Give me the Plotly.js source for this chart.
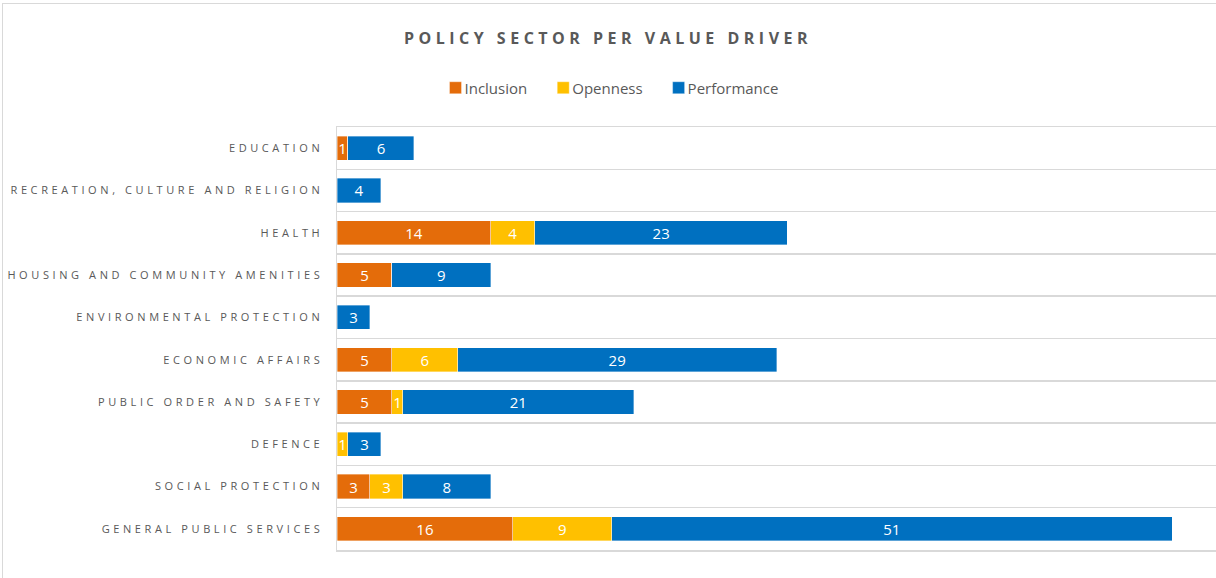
<!DOCTYPE html>
<html>
<head>
<meta charset="utf-8">
<script src="https://cdn.plot.ly/plotly-3.0.1.min.js"></script>
<style>
  html, body { margin: 0; padding: 0; background: #ffffff; overflow: hidden; }
  #wrap { position: relative; width: 1216px; height: 578px; }
  #chart { position: absolute; left: 0; top: 0; width: 1216px; height: 578px; }
  #frame { position: absolute; left: 2px; top: 3px; width: 1240px; height: 600px;
           border-left: 1.5px solid #d9d9d9; border-top: 1.5px solid #d9d9d9; pointer-events: none; }
  .gtitle { letter-spacing: 4.5px; }
  .yaxislayer-above .ytick text { letter-spacing: 3.6px; }
  .legend .traces .legendpoints { transform: translateX(11px); }
</style>
</head>
<body>
<div id="wrap">
  <div id="chart"></div>
  <div id="frame"></div>
</div>
<script>
// Categories, bottom to top
const categories = [
  "GENERAL PUBLIC SERVICES",
  "SOCIAL PROTECTION",
  "DEFENCE",
  "PUBLIC ORDER AND SAFETY",
  "ECONOMIC AFFAIRS",
  "ENVIRONMENTAL PROTECTION",
  "HOUSING AND COMMUNITY AMENITIES",
  "HEALTH",
  "RECREATION, CULTURE AND RELIGION",
  "EDUCATION"
];
const inclusion   = [16, 3, 0, 5, 5, 0, 5, 14, 0, 1];
const openness    = [9, 3, 1, 1, 6, 0, 0, 4, 0, 0];
const performance = [51, 8, 3, 21, 29, 3, 9, 23, 4, 6];

const seriesNames = ["Inclusion", "Openness", "Performance"];
const seriesColors = ["#E46C0A", "#FFC000", "#0070C0"];
const seriesValues = [inclusion, openness, performance];

const FONT = "Open Sans, Noto Sans, DejaVu Sans, sans-serif";

const traces = seriesValues.map((vals, i) => ({
  type: "bar",
  orientation: "h",
  name: seriesNames[i],
  y: categories,
  x: vals,
  text: vals.map(v => v ? String(v) : ""),
  texttemplate: "%{text}",
  textposition: "inside",
  textangle: 0,
  insidetextanchor: "middle",
  constraintext: "none",
  textfont: { family: FONT, size: 15, color: "#ffffff" },
  marker: { color: seriesColors[i], line: { color: "rgba(255,255,255,0.6)", width: 0.6 } },
  hoverinfo: "skip"
}));

const layout = {
  width: 1216,
  height: 578,
  margin: { l: 337, r: 0, t: 127, b: 28, pad: 0 },
  paper_bgcolor: "#ffffff",
  plot_bgcolor: "#ffffff",
  barmode: "stack",
  bargap: 0.43,
  showlegend: true,
  title: {
    text: "<b>POLICY SECTOR PER VALUE DRIVER</b>",
    font: { family: FONT, size: 16, color: "#595959" },
    x: 0.5, xref: "container", xanchor: "center",
    y: 1 - 38 / 578, yref: "container", yanchor: "middle"
  },
  legend: {
    orientation: "h",
    x: (604 - 337) / 879, xanchor: "center",
    y: (550 - 88) / 423, yanchor: "middle",
    font: { family: FONT, size: 15, color: "#595959" },
    itemwidth: 30,
    traceorder: "normal"
  },
  xaxis: {
    range: [0, 80],
    showgrid: false,
    zeroline: false,
    showticklabels: false,
    ticks: "",
    showline: true,
    mirror: true,
    linecolor: "#d9d9d9",
    linewidth: 1.5,
    fixedrange: true
  },
  yaxis: {
    type: "category",
    categoryorder: "array",
    categoryarray: categories,
    tickson: "boundaries",
    showgrid: true,
    gridcolor: "#d9d9d9",
    gridwidth: 1.5,
    showline: true,
    linecolor: "#d9d9d9",
    linewidth: 1.5,
    ticks: "",
    ticklabelstandoff: 10,
    tickfont: { family: FONT, size: 11, color: "#595959" },
    zeroline: false,
    fixedrange: true
  }
};

Plotly.newPlot("chart", traces, layout, { displayModeBar: false, staticPlot: true });
</script>
</body>
</html>
